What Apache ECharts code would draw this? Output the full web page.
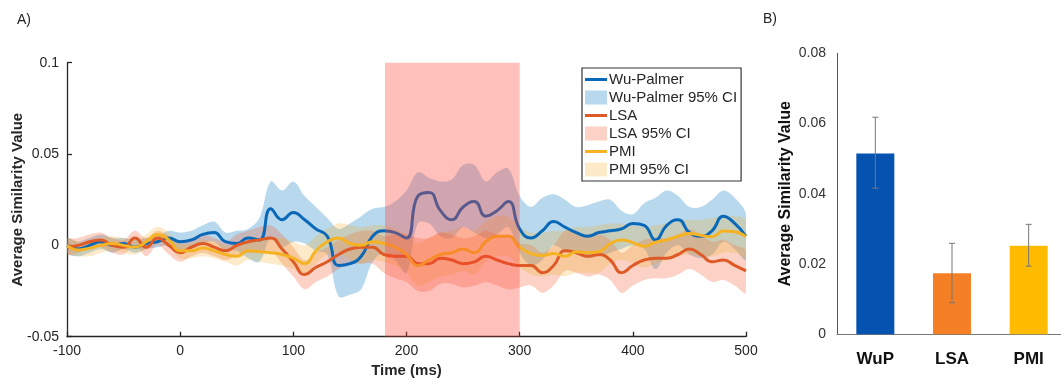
<!DOCTYPE html>
<html>
<head>
<meta charset="utf-8">
<script src="https://cdn.jsdelivr.net/npm/echarts@6/dist/echarts.min.js"></script>
<style>
html,body{margin:0;padding:0;background:#fff;}
#c{width:1061px;height:381px;}
</style>
</head>
<body>
<div id="c"></div>
<script>
// ---- Panel A data (time in ms) ----
const times = [-100,-90,-80,-70,-60,-50,-40,-30,-20,-10,0,10,20,30,40,50,60,70,80,90,100,110,120,130,140,150,160,170,180,190,200,210,220,230,240,250,260,270,280,290,300,310,320,330,340,350,360,370,380,390,400,410,420,430,440,450,460,470,480,490,500];

const wup = [0.000,-0.002,0.000,0.002,0.000,0.001,-0.001,0.001,0.002,0.004,
0.002,0.003,0.006,0.007,0.002,0.001,0.004,0.003,0.020,0.014,
0.018,0.014,0.009,0.005,-0.011,-0.010,-0.006,0.005,0.008,0.007,
0.004,0.027,0.029,0.019,0.014,0.021,0.024,0.016,0.019,0.024,
0.009,0.004,0.008,0.013,0.010,0.007,0.005,0.007,0.008,0.009,
0.012,0.011,0.003,0.011,0.014,0.007,0.005,0.008,0.016,0.012,
0.005];
const wupHi = [0.004,0.002,0.004,0.006,0.004,0.004,0.003,0.004,0.005,0.008,
0.007,0.008,0.011,0.013,0.007,0.008,0.009,0.015,0.035,0.030,
0.035,0.027,0.021,0.015,0.009,0.012,0.016,0.020,0.021,0.024,
0.030,0.040,0.037,0.035,0.036,0.044,0.044,0.035,0.040,0.042,
0.027,0.021,0.026,0.028,0.025,0.021,0.022,0.024,0.025,0.019,
0.017,0.023,0.026,0.030,0.027,0.021,0.021,0.025,0.030,0.026,
0.017];
const wupLo = [-0.004,-0.006,-0.004,-0.002,-0.004,-0.002,-0.004,-0.002,-0.001,0.000,
-0.003,-0.002,0.001,0.002,-0.003,-0.003,-0.007,-0.009,0.004,-0.001,
0.002,0.001,-0.003,-0.005,-0.028,-0.027,-0.024,-0.009,-0.004,-0.008,
-0.015,0.012,0.012,0.005,0.004,0.010,0.007,0.004,0.006,0.010,
-0.004,-0.011,-0.008,0.000,-0.003,-0.005,-0.007,-0.006,-0.004,-0.002,
0.000,-0.002,-0.013,-0.004,0.000,-0.005,-0.007,-0.005,0.002,-0.002,
-0.008];

const lsa = [-0.001,0.000,0.002,0.003,0.000,-0.001,0.004,-0.001,0.004,0.000,
-0.004,-0.001,0.001,-0.001,-0.003,0.000,0.002,0.003,0.004,-0.002,
-0.009,-0.016,-0.012,-0.009,-0.005,-0.002,-0.001,-0.001,-0.005,-0.006,
-0.006,-0.010,-0.010,-0.007,-0.008,-0.010,-0.009,-0.006,-0.008,-0.010,
-0.011,-0.011,-0.015,-0.011,-0.003,-0.004,-0.006,-0.005,-0.008,-0.015,
-0.011,-0.008,-0.007,-0.007,-0.005,-0.002,-0.005,-0.009,-0.008,-0.011,
-0.014];
const lsaHi = [0.003,0.004,0.006,0.007,0.004,0.003,0.008,0.004,0.008,0.005,
0.001,0.004,0.006,0.004,0.002,0.006,0.008,0.010,0.011,0.006,
-0.001,-0.008,-0.004,-0.001,0.003,0.006,0.008,0.008,0.005,0.006,
0.006,0.004,0.004,0.007,0.006,0.004,0.005,0.008,0.006,0.004,
0.001,0.000,-0.004,0.000,0.008,0.007,0.005,0.006,0.003,-0.004,
0.000,0.003,0.004,0.004,0.006,0.009,0.006,0.002,0.003,0.000,
-0.003];
const lsaLo = [-0.005,-0.004,-0.002,-0.001,-0.004,-0.005,0.000,-0.006,0.000,-0.005,
-0.009,-0.006,-0.004,-0.006,-0.008,-0.006,-0.004,-0.004,-0.003,-0.010,
-0.017,-0.024,-0.020,-0.017,-0.013,-0.010,-0.010,-0.010,-0.015,-0.018,
-0.020,-0.025,-0.025,-0.021,-0.021,-0.023,-0.022,-0.020,-0.022,-0.024,
-0.023,-0.022,-0.026,-0.022,-0.014,-0.015,-0.017,-0.016,-0.019,-0.026,
-0.022,-0.019,-0.018,-0.018,-0.016,-0.013,-0.016,-0.020,-0.019,-0.022,
-0.026];

const pmi = [0.000,-0.0025,-0.0015,0.000,0.001,0.000,-0.001,0.002,0.006,0.003,
-0.003,-0.003,-0.0015,-0.003,-0.005,-0.006,-0.003,-0.0035,-0.004,-0.005,
-0.007,-0.010,-0.003,0.002,0.004,0.001,0.000,0.002,0.001,-0.001,
-0.005,-0.011,-0.008,-0.005,-0.004,-0.002,-0.004,0.002,0.005,0.005,
-0.001,-0.0045,-0.0055,-0.0045,-0.006,-0.0035,-0.004,-0.0035,0.001,0.003,
0.0015,-0.0005,0.0017,0.003,0.005,0.0065,0.0055,0.0047,0.0078,0.0075,
0.0048];
const pmiHi = [0.004,0.002,0.002,0.004,0.005,0.004,0.003,0.006,0.010,0.007,
0.001,0.001,0.003,0.002,0.000,-0.001,0.002,0.003,0.004,0.004,
0.002,0.000,0.005,0.009,0.012,0.011,0.010,0.011,0.011,0.009,
0.006,0.001,0.004,0.007,0.008,0.010,0.008,0.013,0.016,0.016,
0.010,0.007,0.007,0.008,0.008,0.010,0.010,0.011,0.012,0.012,
0.011,0.010,0.011,0.012,0.013,0.014,0.014,0.015,0.016,0.016,
0.014];
const pmiLo = [-0.004,-0.006,-0.006,-0.004,-0.003,-0.004,-0.005,-0.002,0.002,-0.001,
-0.007,-0.007,-0.006,-0.007,-0.009,-0.011,-0.008,-0.009,-0.010,-0.011,
-0.013,-0.016,-0.010,-0.005,-0.004,-0.008,-0.010,-0.008,-0.009,-0.011,
-0.015,-0.022,-0.020,-0.017,-0.016,-0.014,-0.016,-0.009,-0.006,-0.006,
-0.012,-0.016,-0.017,-0.016,-0.017,-0.015,-0.015,-0.015,-0.010,-0.008,
-0.010,-0.012,-0.010,-0.008,-0.006,-0.005,-0.006,-0.006,-0.004,-0.004,
-0.006];

const windowStart = 181, windowEnd = 300;

// ---- Panel B data ----
const barCats = ['WuP','LSA','PMI'];
const barVals = [0.0515, 0.0174, 0.0252];
const errLow = [0.0416, 0.0090, 0.0194];
const errHigh = [0.0618, 0.0259, 0.0313];

// ---- styling ----
const FONT = '"Liberation Sans", Arial, Helvetica, sans-serif';
const C_WUP = '#0a68b8', C_LSA = '#de5a26', C_PMI = '#f5b324';
const A_WUP = 'rgba(0,114,189,0.28)', A_LSA = 'rgba(240,90,40,0.27)', A_PMI = 'rgba(245,170,40,0.25)';
const barColors = ['#0453b0', '#f47f24', '#ffbb00'];
const lineIcon = 'path://M0,0M0,5.5L22,5.5L22,8.5L0,8.5ZM22,14';

const pairs = arr => times.map((t, i) => [t, arr[i]]);

function lineSeries(name, arr, color) {
  return { name, type: 'line', xAxisIndex: 0, yAxisIndex: 0, data: pairs(arr),
    smooth: 0.5, showSymbol: false, symbol: 'none', color,
    lineStyle: { color, width: 3 }, silent: true };
}
function bandSeries(name, hi, lo, color) {
  return { name, type: 'custom', xAxisIndex: 0, yAxisIndex: 0, clip: true, silent: true,
    color, itemStyle: { color },
    data: [[times[0], hi[0]]],
    renderItem: function (params, api) {
      const up = times.map((t, i) => api.coord([t, hi[i]]));
      const dn = times.map((t, i) => api.coord([t, lo[i]])).reverse();
      return { type: 'polygon', shape: { points: up.concat(dn), smooth: 0.35 },
        style: { fill: color, stroke: null } };
    } };
}

const chart = echarts.init(document.getElementById('c'), null, { renderer: 'canvas' });

const option = {
  animation: false,
  textStyle: { fontFamily: FONT },
  graphic: [
    { type: 'text', left: 17, top: 13, style: { text: 'A)', font: '14px ' + FONT, fill: '#222' } },
    { type: 'text', left: 763, top: 12, style: { text: 'B)', font: '14px ' + FONT, fill: '#222' } }
  ],
  legend: {
    orient: 'vertical', left: 582, top: 68,
    padding: [4, 4, 4, 3], itemGap: 3, itemWidth: 22, itemHeight: 14,
    backgroundColor: '#fff', borderColor: '#333', borderWidth: 1.2,
    selectedMode: false,
    textStyle: { fontSize: 15, color: '#262626', fontFamily: FONT, lineHeight: 15, padding: [0,0,0,-3] },
    data: [
      { name: 'Wu-Palmer', icon: lineIcon },
      { name: 'Wu-Palmer 95% CI', icon: 'rect' },
      { name: 'LSA', icon: lineIcon },
      { name: 'LSA 95% CI', icon: 'rect' },
      { name: 'PMI', icon: lineIcon },
      { name: 'PMI 95% CI', icon: 'rect' }
    ]
  },
  grid: [
    { left: 67, right: 315, top: 62.7, bottom: 44.3, outerBoundsMode: 'none', containLabel: false },
    { left: 837, right: -6, top: 53.3, bottom: 46.7, outerBoundsMode: 'none', containLabel: false }
  ],
  xAxis: [
    { type: 'value', gridIndex: 0, min: -100, max: 500, interval: 100,
      name: 'Time (ms)', nameLocation: 'middle', nameGap: 27, nameMoveOverlap: false,
      nameTextStyle: { fontSize: 15, fontWeight: 'bold', color: '#262626' },
      axisLine: { onZero: false, lineStyle: { color: '#262626', width: 1.3 } },
      axisTick: { inside: true, length: 5, lineStyle: { color: '#262626', width: 1.3 } },
      axisLabel: { fontSize: 14, color: '#262626', margin: 7 },
      splitLine: { show: false } },
    { type: 'category', gridIndex: 1, data: barCats,
      axisLine: { onZero: false, lineStyle: { color: '#777', width: 1 } },
      axisTick: { show: false },
      axisLabel: { fontSize: 17, fontWeight: 'bold', color: '#111', margin: 17 } }
  ],
  yAxis: [
    { type: 'value', gridIndex: 0, min: -0.05, max: 0.1, interval: 0.05,
      name: 'Average Similarity Value', nameLocation: 'middle', nameGap: 42, nameMoveOverlap: false,
      nameTextStyle: { fontSize: 15, fontWeight: 'bold', color: '#262626' },
      axisLine: { show: true, onZero: false, lineStyle: { color: '#262626', width: 1.3 } },
      axisTick: { show: true, inside: true, length: 5, lineStyle: { color: '#262626', width: 1.3 } },
      axisLabel: { fontSize: 14, color: '#262626', margin: 8 },
      splitLine: { show: false } },
    { type: 'value', gridIndex: 1, min: 0, max: 0.08, interval: 0.02,
      name: 'Average Similarity Value', nameLocation: 'middle', nameGap: 43, nameMoveOverlap: false,
      nameTextStyle: { fontSize: 16, fontWeight: 'bold', color: '#111' },
      axisLine: { show: true, onZero: false, lineStyle: { color: '#555', width: 1 } },
      axisTick: { show: false },
      axisLabel: { fontSize: 14, color: '#333', margin: 11 },
      splitLine: { show: false } }
  ],
  series: [
    lineSeries('Wu-Palmer', wup, C_WUP),
    bandSeries('Wu-Palmer 95% CI', wupHi, wupLo, A_WUP),
    lineSeries('LSA', lsa, C_LSA),
    bandSeries('LSA 95% CI', lsaHi, lsaLo, A_LSA),
    lineSeries('PMI', pmi, C_PMI),
    bandSeries('PMI 95% CI', pmiHi, pmiLo, A_PMI),
    { name: 'window', type: 'line', xAxisIndex: 0, yAxisIndex: 0, data: [], z: 5, silent: true,
      markArea: { z: 10, silent: true, label: { show: false },
        itemStyle: { color: 'rgba(255,62,50,0.33)' },
        data: [[{ xAxis: windowStart, yAxis: -0.05 }, { xAxis: windowEnd, yAxis: 0.102 }]] } },
    { name: 'bars', type: 'bar', xAxisIndex: 1, yAxisIndex: 1, barWidth: 38,
      data: barVals.map((v, i) => ({ value: v, itemStyle: { color: barColors[i] } })), silent: true },
    { name: 'err', type: 'custom', xAxisIndex: 1, yAxisIndex: 1, z: 4, silent: true,
      data: barCats.map((c, i) => [i, errLow[i], errHigh[i]]),
      renderItem: function (params, api) {
        const lo = api.coord([api.value(0), api.value(1)]);
        const hi = api.coord([api.value(0), api.value(2)]);
        const w = 3;
        const st = { stroke: '#777', lineWidth: 1 };
        return { type: 'group', children: [
          { type: 'line', shape: { x1: lo[0], y1: lo[1], x2: hi[0], y2: hi[1] }, style: st },
          { type: 'line', shape: { x1: lo[0]-w, y1: lo[1], x2: lo[0]+w, y2: lo[1] }, style: st },
          { type: 'line', shape: { x1: hi[0]-w, y1: hi[1], x2: hi[0]+w, y2: hi[1] }, style: st }
        ]};
      } }
  ]
};
chart.setOption(option);
</script>
</body>
</html>
